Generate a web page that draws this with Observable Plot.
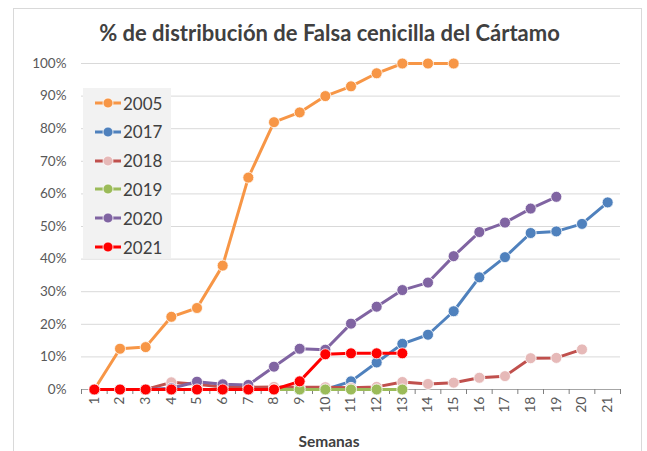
<!DOCTYPE html>
<html>
<head>
<meta charset="utf-8">
<script src="https://cdn.jsdelivr.net/npm/d3@7"></script>
<script src="https://cdn.jsdelivr.net/npm/@observablehq/plot@0.6"></script>
<style>
  body { margin: 0; background: #fff; font-family: Lato, "Open Sans", sans-serif; }
  #wrap { position: relative; width: 647px; height: 451px; overflow: hidden; }
  #frame { position: absolute; left: 13px; top: 8px; width: 629px; height: 470px; border: 1px solid #d9d9d9; box-sizing: border-box; }
  #title { position: absolute; left: 0; top: 19px; width: 659px; text-align: center; font-size: 22px; font-weight: bold; color: #404040; line-height: 28px; }
  #chart { position: absolute; left: 0; top: 50px; }
  #xlabel { position: absolute; left: 0; top: 432px; width: 658px; text-align: center; font-size: 15.5px; font-weight: bold; color: #404040; }
  #legend { position: absolute; left: 83px; top: 88px; width: 88px; height: 170px; background: #f2f2f2; }
  .row { position: absolute; left: 0; height: 24px; display: flex; align-items: center; }
  .row span { font-size: 17px; color: #404040; margin-left: 1px; }
</style>
</head>
<body>
<div id="wrap">
  <div id="frame"></div>
  <div id="title">% de distribución de Falsa cenicilla del Cártamo</div>
  <div id="chart"></div>
  <div id="xlabel">Semanas</div>
  <div id="legend"></div>
</div>
<script>
const weeks = [1,2,3,4,5,6,7,8,9,10,11,12,13,14,15,16,17,18,19,20,21];
const yTicks = [0,10,20,30,40,50,60,70,80,90,100];
const years = ["2005","2017","2018","2019","2020","2021"];
const lineColors = ["#f79646","#4f81bd","#c0504d","#9bbb59","#8064a2","#ff0000"];
const markerColors = ["#f79646","#4f81bd","#e6b9b8","#9bbb59","#8064a2","#ff0000"];

const s2005 = [0,12.5,13,22.3,25,38,65,82,85,90,93,97,100,100,100];
const s2017 = [0,0,0,0,0,0,0,0,0,0,2.5,8.3,14,16.8,24,34.4,40.6,48,48.5,50.8,57.4];
const s2018 = [0,0,0,2.2,1.6,0.8,0.7,0.8,0.7,0.7,0.5,0.8,2.3,1.7,2.1,3.6,4.1,9.6,9.7,12.3];
const s2019 = [0,0,0,0,0,0,0,0,0,0,0,0,0];
const s2020 = [0,0,0,0.4,2.4,1.6,1.4,7,12.5,12.2,20.2,25.4,30.5,32.8,40.9,48.3,51.2,55.5,59.1];
const s2021 = [0,0,0,0,0,0,0,0,2.5,10.8,11.1,11.1,11.1];
const seriesValues = [s2005,s2017,s2018,s2019,s2020,s2021];

const halfTicks = weeks.map(w => w - 0.5).concat([weeks[weeks.length-1] + 0.5]);

const marks = [
  Plot.gridY(yTicks, {stroke: "#d9d9d9", strokeOpacity: 1, strokeWidth: 1}),
  Plot.axisY(yTicks, {tickSize: 0, tickPadding: 15, tickFormat: d => d + "%", fontSize: 13.5, fill: "#595959", label: null}),
  Plot.ruleY([0], {stroke: "#a6a6a6", strokeWidth: 1}),
  Plot.axisX(halfTicks, {tickSize: 5, stroke: "#7f7f7f", tickFormat: () => "", label: null}),
  Plot.axisX(weeks, {tickSize: 0, tickPadding: 7, tickRotate: -90, fontSize: 14, fill: "#595959", label: null})
];

years.forEach((yr, i) => {
  const data = seriesValues[i].map((v, j) => ({week: weeks[j], value: v}));
  marks.push(Plot.line(data, {x: "week", y: "value", stroke: lineColors[i], strokeWidth: 3, strokeLinejoin: "round", strokeLinecap: "round"}));
  marks.push(Plot.dot(data, {x: "week", y: "value", r: 5.5, fill: markerColors[i], stroke: "white", strokeWidth: 0.8}));
});

const chart = Plot.plot({
  width: 647,
  height: 401,
  marginLeft: 81,
  marginRight: 27,
  marginTop: 13,
  marginBottom: 62,
  style: {fontFamily: "Lato, 'Open Sans', sans-serif", background: "transparent", overflow: "visible"},
  x: {type: "linear", domain: [0.5, 21.5]},
  y: {domain: [0, 100]},
  marks
});
document.getElementById("chart").appendChild(chart);

// Legend
const legend = document.getElementById("legend");
years.forEach((yr, i) => {
  const row = document.createElement("div");
  row.className = "row";
  row.style.top = (3 + i * 28.8) + "px";
  row.style.left = "11px";
  const svg = d3.create("svg").attr("width", 28).attr("height", 14);
  svg.append("line").attr("x1", 1).attr("x2", 27).attr("y1", 7).attr("y2", 7)
    .attr("stroke", lineColors[i]).attr("stroke-width", 3);
  svg.append("circle").attr("cx", 14).attr("cy", 7).attr("r", 5)
    .attr("fill", markerColors[i]).attr("stroke", "white").attr("stroke-width", 0.8);
  row.appendChild(svg.node());
  const t = document.createElement("span");
  t.textContent = yr;
  row.appendChild(t);
  legend.appendChild(row);
});
</script>
</body>
</html>
